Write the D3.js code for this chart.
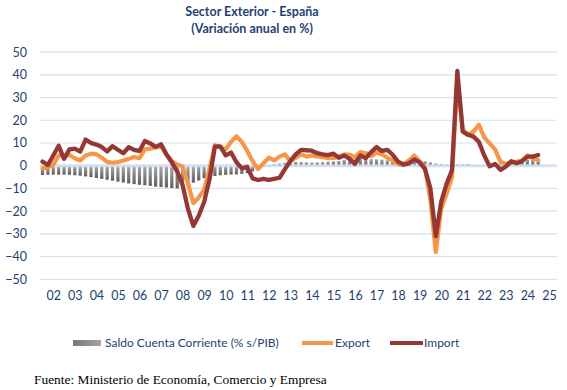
<!DOCTYPE html>
<html><head><meta charset="utf-8">
<script src="https://cdn.jsdelivr.net/npm/d3@7/dist/d3.min.js"></script>
<style>body{margin:0;background:#fff}</style>
</head><body>
<svg id="chart" width="567" height="390"></svg>
<script>
// ---- DATA (quarterly, 2002T1 .. 2025T1) ----
const yearLabels = ["02","03","04","05","06","07","08","09","10","11","12","13","14","15","16","17","18","19","20","21","22","23","24","25"];
const quarters = d3.range(93).map(i => `${2002 + Math.floor(i / 4)}T${(i % 4) + 1}`);
const yTicks = [50, 40, 30, 20, 10, 0, -10, -20, -30, -40, -50];

const saldoCuentaCorriente = [
  -4.1, -4.0, -3.9, -3.9, -3.9, -4.0, -4.2, -4.4, -4.7, -5.0,
  -5.4, -5.8, -6.2, -6.6, -7.0, -7.4, -7.8, -8.1, -8.4, -8.6,
  -8.9, -9.2, -9.4, -9.6, -9.8, -10.0, -9.5, -8.5, -7.5, -6.5,
  -5.5, -5.0, -4.5, -4.2, -4.0, -3.9, -3.8, -3.6, -3.3, -2.5,
  -1.5, -0.5, 0.3, 0.7, 1.0, 1.3, 1.5, 1.7, 1.6, 1.5,
  1.4, 1.5, 1.6, 1.8, 2.0, 2.1, 2.5, 2.8, 3.0, 3.1,
  3.0, 2.9, 2.8, 2.7, 2.4, 2.1, 1.9, 1.8, 1.9, 2.0,
  2.1, 2.0, 1.5, 1.0, 0.8, 0.6, 0.5, 0.6, 0.7, 0.8,
  0.3, 0.2, 0.2, 0.3, 0.5, 1.0, 1.5, 2.0, 2.3, 2.5,
  2.7, 2.8, 2.9
];
const exportVar = [
  -1.2, -0.7, 0.5, 4.5, 4.2, 4.7, 3.3, 2.3, 4.5, 5.3,
  5.0, 3.5, 1.7, 1.3, 1.6, 2.3, 3.0, 3.8, 3.3, 7.2,
  7.5, 8.0, 8.5, 5.0, 2.0, 0.5, -0.3, -7.8, -16.5, -14.0,
  -10.5, -1.5, 9.0, 8.2, 7.2, 10.5, 13.0, 10.5, 6.5, 2.0,
  -1.5, 1.0, 3.5, 2.3, 4.0, 5.0, 2.0, 3.5, 5.0, 4.0,
  4.5, 4.1, 3.8, 3.3, 3.4, 4.0, 5.0, 4.8, 3.8, 6.0,
  5.5, 4.2, 5.8, 5.0, 3.5, 2.2, 0.8, 0.5, 2.3, 4.5,
  2.0, -1.0, -15.0, -38.0, -19.0, -12.5, -5.0, 38.0, 16.0, 13.5,
  15.0, 18.0, 12.5, 9.8, 7.2, 1.8, 0.8, 1.5, 1.8, 2.2,
  4.5, 3.3, 2.5
];
const importVar = [
  1.8, 0.3, 4.5, 8.8, 3.0, 7.2, 7.5, 6.2, 11.5, 10.0,
  9.3, 8.2, 6.3, 8.6, 7.0, 5.5, 8.1, 7.0, 6.5, 10.9,
  9.8, 8.3, 9.4, 5.0, 1.5, -2.5, -8.5, -19.0, -26.5, -22.0,
  -16.0, -6.0, 8.4, 8.5, 4.5, 5.8, 1.5, -1.2, -0.5, -5.6,
  -6.3, -5.8, -6.2, -5.8, -5.3, -1.5, 2.0, 5.0, 7.0, 6.8,
  6.6, 5.5, 5.0, 4.7, 5.3, 3.5, 4.5, 3.0, 0.8, 4.5,
  3.3, 6.0, 8.2, 6.5, 7.0, 4.8, 1.8, 0.5, 1.0, 2.8,
  1.5, -1.5, -10.0, -31.0, -15.9, -8.0, -2.0, 41.7, 15.0, 13.6,
  12.8, 10.5, 4.5, -0.3, 0.8, -1.8, -0.4, 2.0, 1.1, 2.0,
  4.0, 4.0, 4.7
];

// ---- LAYOUT ----
const svg = d3.select("#chart");
const plotLeft = 40, plotRight = 557;
const blue = "#243F73";
const font = "Lato, 'Open Sans', sans-serif";

const qTime = q => +q.slice(0, 4) + (+q.slice(5) - 1) / 4;
const x = d3.scaleLinear().domain([2002, 2026]).range([42.5, 42.5 + 24 * 21.55]);
const y = d3.scaleLinear().domain([-50, 50]).range([279.3, 52.1]);

// gradients for bars
const defs = svg.append("defs");
const grad = defs.append("linearGradient").attr("id", "barGrad")
  .attr("x1", 0).attr("y1", 0).attr("x2", 0).attr("y2", 1);
grad.append("stop").attr("offset", "0%").attr("stop-color", "#ababab");
grad.append("stop").attr("offset", "100%").attr("stop-color", "#5e5e5e");
const gradH = defs.append("linearGradient").attr("id", "barGradH")
  .attr("x1", 0).attr("y1", 0).attr("x2", 1).attr("y2", 0);
gradH.append("stop").attr("offset", "0%").attr("stop-color", "#777");
gradH.append("stop").attr("offset", "100%").attr("stop-color", "#a4a4a4");

// Title
const title = svg.append("g").attr("font-family", font)
  .attr("font-weight", "bold").attr("fill", "#1F3F73").attr("text-anchor", "middle");
title.append("text").attr("x", 252).attr("y", 16).attr("font-size", 12.5).text("Sector Exterior - España");
title.append("text").attr("x", 252).attr("y", 33).attr("font-size", 12.5).text("(Variación anual en %)");

// Gridlines
svg.append("g").selectAll("line").data(yTicks.filter(d => d !== 0)).join("line")
  .attr("x1", plotLeft).attr("x2", plotRight)
  .attr("y1", d => y(d)).attr("y2", d => y(d))
  .attr("stroke", "#D5E2F3").attr("stroke-width", 1.2);

// Y axis labels
const yAxis = d3.axisLeft(y).tickValues(yTicks).tickSize(0).tickPadding(0);
const gy = svg.append("g").attr("transform", "translate(27,0)").call(yAxis);
gy.select(".domain").remove();
gy.selectAll("text").attr("font-family", font)
  .attr("font-size", 12.5).attr("fill", blue);

// Bars (current account)
svg.append("g").selectAll("rect").data(quarters).join("rect")
  .attr("x", (q) => x(qTime(q)) - 1.6)
  .attr("width", 3.2)
  .attr("y", (q, i) => Math.min(y(0), y(saldoCuentaCorriente[i])))
  .attr("height", (q, i) => Math.abs(y(saldoCuentaCorriente[i]) - y(0)))
  .attr("fill", "url(#barGrad)");

// Zero line
svg.append("line").attr("x1", plotLeft).attr("x2", plotRight)
  .attr("y1", y(0)).attr("y2", y(0))
  .attr("stroke", "#CFDEF2").attr("stroke-width", 3).attr("opacity", 0.85);

// X axis labels
const xAxis = d3.axisBottom(x)
  .tickValues(yearLabels.map((d, i) => 2002 + i + 0.5))
  .tickFormat((d, i) => yearLabels[i]).tickSize(0).tickPadding(0);
const gx = svg.append("g").attr("transform", "translate(0,291)").call(xAxis);
gx.select(".domain").remove();
gx.selectAll("text").attr("font-family", font)
  .attr("font-size", 12.5).attr("fill", blue);

// Lines
const line = d3.line().x(d => x(d.t)).y(d => y(d.v)).curve(d3.curveLinear);
const expData = quarters.map((q, i) => ({ t: qTime(q), v: exportVar[i] }));
const impData = quarters.map((q, i) => ({ t: qTime(q), v: importVar[i] }));
svg.append("path").datum(expData).attr("d", line).attr("fill", "none")
  .attr("stroke", "#F79646").attr("stroke-width", 4.2)
  .attr("stroke-linejoin", "round").attr("stroke-linecap", "round");
svg.append("path").datum(impData).attr("d", line).attr("fill", "none")
  .attr("stroke", "#953735").attr("stroke-width", 4.3)
  .attr("stroke-linejoin", "round").attr("stroke-linecap", "round");

// Legend
const lg = svg.append("g").attr("font-family", font)
  .attr("font-size", 12).attr("fill", blue);
lg.append("rect").attr("x", 73).attr("y", 340).attr("width", 28).attr("height", 6).attr("fill", "url(#barGradH)");
lg.append("text").attr("x", 105).attr("y", 347).text("Saldo Cuenta Corriente (% s/PIB)");
lg.append("line").attr("x1", 302).attr("x2", 333).attr("y1", 343).attr("y2", 343)
  .attr("stroke", "#F79646").attr("stroke-width", 4);
lg.append("text").attr("x", 335).attr("y", 347).text("Export");
lg.append("line").attr("x1", 390).attr("x2", 423).attr("y1", 343).attr("y2", 343)
  .attr("stroke", "#953735").attr("stroke-width", 4);
lg.append("text").attr("x", 424).attr("y", 347).text("Import");

// Source
svg.append("text").attr("x", 34).attr("y", 384)
  .attr("font-family", "'Liberation Serif', 'Times New Roman', serif")
  .attr("font-size", 13.4).attr("fill", "#000")
  .text("Fuente: Ministerio de Economía, Comercio y Empresa");
</script>
</body></html>
